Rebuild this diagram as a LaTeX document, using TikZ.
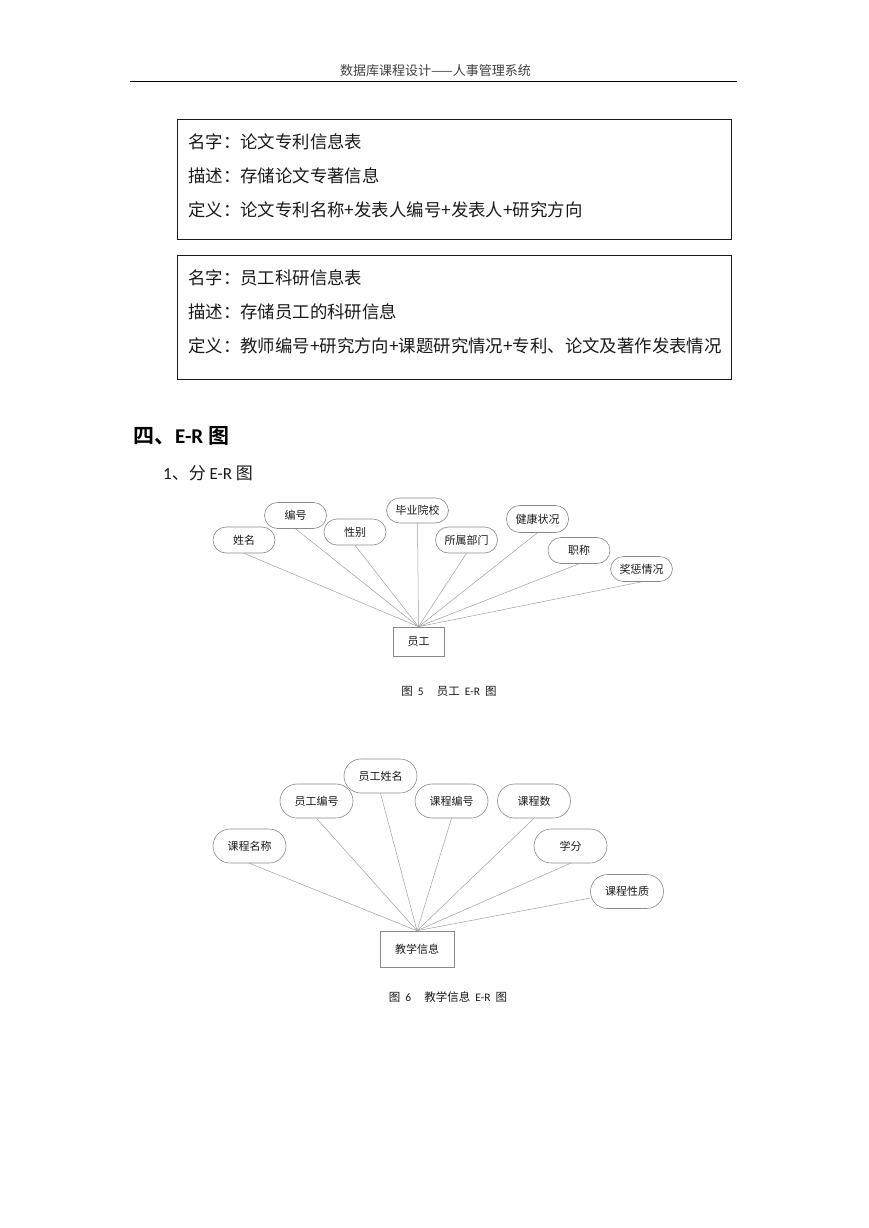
\documentclass[tikz,border=0pt]{standalone}
\usepackage{fontspec}
\setmainfont{Noto Sans CJK SC}[BoldFont={Noto Sans CJK SC Bold}]
\newfontfamily\lat{Carlito}
\usepackage{tikz}
\usetikzlibrary{positioning}
\definecolor{pageink}{HTML}{1A1A1A}
\definecolor{headink}{HTML}{404040}
\definecolor{shapeink}{HTML}{8A8A8A}
\definecolor{linkink}{HTML}{A0A0A0}
\tikzset{
  defbox/.style={draw=pageink, line width=0.9pt, minimum width=554pt, inner sep=0pt},
  entry/.style={anchor=west, inner sep=0pt, text=pageink, font=\fontsize{17.4}{17.4}\selectfont},
  heading/.style={anchor=west, inner sep=0pt, text=black, font=\fontsize{21}{21}\selectfont\bfseries},
  subheading/.style={anchor=west, inner sep=0pt, text=pageink, font=\fontsize{17}{17}\selectfont},
  attr/.style={draw=shapeink, line width=0.6pt, rounded corners=13pt, minimum width=62pt,
    minimum height=26pt, inner sep=0pt, text=pageink, font=\fontsize{11}{11}\selectfont},
  attrbig/.style={attr, rounded corners=17pt, minimum width=73pt, minimum height=34pt},
  entity/.style={draw=shapeink, line width=0.6pt, inner sep=0pt, text=pageink,
    font=\fontsize{11}{11}\selectfont},
  link/.style={draw=linkink, line width=0.5pt},
  caption/.style={inner sep=0pt, text=pageink, font=\fontsize{11.5}{11.5}\selectfont},
}

\begin{document}
\begin{tikzpicture}[x=1pt, y=-1pt]
\useasboundingbox[fill=white] (0,0) rectangle (869,1228);

% ---- page header -----------------------------------------------------
\node[inner sep=0pt, text=headink, font=\fontsize{13}{13}\selectfont] (header) at (435.5,71)
  {数据库课程设计——人事管理系统};
\draw[line width=1pt] (130,81.5) -- (737,81.5);

% ---- data dictionary boxes -------------------------------------------
\node[defbox, minimum height=120pt] (paperbox) at (454,179) {};
\node[entry] (pname) at (188,142) {名字：论文专利信息表};
\node[entry] (pdesc) at (188,176) {描述：存储论文专著信息};
\node[entry] (pdef) at (188,210) {定义：论文专利名称+发表人编号+发表人+研究方向};

\node[defbox, minimum height=124pt] (researchbox) at (454,317) {};
\node[entry] (rname) at (188,278) {名字：员工科研信息表};
\node[entry] (rdesc) at (188,312) {描述：存储员工的科研信息};
\node[entry] (rdef) at (188,346) {定义：教师编号+研究方向+课题研究情况+专利、论文及著作发表情况};

% ---- section title ---------------------------------------------------
\node[heading] (sec) at (133,436) {四、{\lat E-R} 图};
\node[subheading] (subsec) at (163,473) {{\lat 1}、分 {\lat E-R} 图};

% ---- employee E-R ----------------------------------------------------
\node[entity, minimum width=51pt, minimum height=29pt] (emp) at (418.5,641.5) {员工};
\node[attr] (name) at (244,540) {姓名};
\node[attr] (idno) at (295.5,515.5) {编号};
\node[attr] (sex) at (355,532) {性别};
\node[attr, minimum height=25pt] (school) at (417.5,510.5) {毕业院校};
\node[attr] (dept) at (466.5,540) {所属部门};
\node[attr, minimum height=27pt] (health) at (537.5,519) {健康状况};
\node[attr] (title) at (579,550.5) {职称};
\node[attr, minimum height=25pt] (award) at (641.5,569) {奖惩情况};

\foreach \a in {name,idno,sex,school,dept,health,title,award}
  \draw[link] (\a.south) -- (emp.north);

\node[caption] (cap5) at (449,691)
  {图\hspace{5pt}{\lat 5}\hspace{13pt}员工\hspace{5pt}{\lat E-R}\hspace{5pt}图};

% ---- teaching E-R ----------------------------------------------------
\node[entity, minimum width=74pt, minimum height=36pt] (teach) at (417,949) {教学信息};
\node[attrbig] (course) at (249.5,846) {课程名称};
\node[attrbig] (empid) at (316.5,801) {员工编号};
\node[attrbig] (empname) at (380.5,776) {员工姓名};
\node[attrbig] (courseid) at (451.5,801) {课程编号};
\node[attrbig] (coursenum) at (534,801) {课程数};
\node[attrbig] (credit) at (570.5,846) {学分};
\node[attrbig] (nature) at (627,891.5) {课程性质};

\foreach \a in {course,empid,empname,courseid,coursenum,credit}
  \draw[link] (\a.south) -- (teach.north);
\draw[link] (nature.190) -- (teach.north);

\node[caption] (cap6) at (448,997)
  {图\hspace{5pt}{\lat 6}\hspace{13pt}教学信息\hspace{5pt}{\lat E-R}\hspace{5pt}图};

\end{tikzpicture}
\end{document}
